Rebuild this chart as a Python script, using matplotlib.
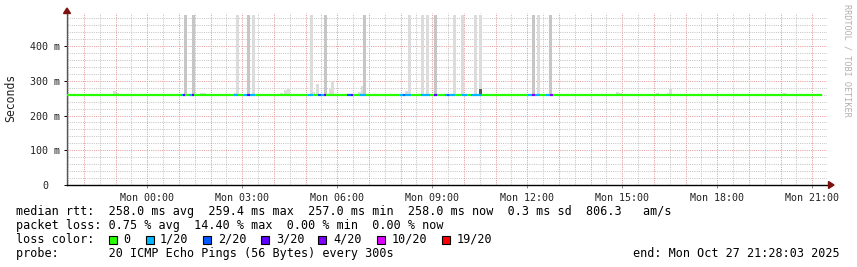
import numpy as np
import matplotlib
matplotlib.use("Agg")
import matplotlib.pyplot as plt
from matplotlib.patches import Rectangle, Polygon
from matplotlib.transforms import blended_transform_factory

W, H = 857, 267
MONO = "DejaVu Sans Mono"

# time axis: hours relative to Mon 00:00
t_start, t_end = -2.533, 21.467
t_last = 21.316
bar_w = 0.095
rtt_median = 258.0

# tall smoke spikes: start hour, top (ms), shade
spike_t = [1.168, 1.421, 2.810, 3.158, 3.316, 5.147, 5.589, 6.821, 8.242, 8.652,
           8.810, 9.063, 9.663, 9.916, 10.326, 10.484, 12.158, 12.316, 12.695]
spike_top = [490, 490, 490, 490, 490, 490, 490, 490, 490, 490,
             490, 490, 490, 490, 490, 490, 490, 490, 490]
spike_shade = ["#c6c6c6", "#c6c6c6", "#dcdcdc", "#c6c6c6", "#dcdcdc", "#dcdcdc", "#c6c6c6",
               "#c6c6c6", "#dcdcdc", "#dcdcdc", "#dcdcdc", "#c6c6c6", "#dcdcdc", "#dcdcdc",
               "#dcdcdc", "#dcdcdc", "#c6c6c6", "#dcdcdc", "#c6c6c6"]

# low smoke just above the median
smoke_t = [-2.432, -2.021, -1.074, -0.980, -0.316, 0.411, 1.674, 1.770, 2.084, 2.526,
           2.747, 3.505, 4.200, 4.326, 4.420, 5.210, 5.337, 5.747, 5.810, 6.030,
           6.660, 6.760, 7.230, 7.520, 8.150, 8.240, 9.190, 9.410, 10.040, 10.420,
           11.370, 14.810, 14.900, 15.160, 15.570, 15.820, 16.070, 16.200, 16.420, 16.480,
           17.340, 20.080]
smoke_top = [263, 262, 270, 266, 262, 262, 264, 264, 262, 262,
             265, 263, 266, 272, 276, 268, 290, 276, 299, 263,
             268, 285, 263, 263, 270, 268, 262, 263, 262, 262,
             262, 268, 266, 262, 262, 262, 265, 262, 265, 276,
             262, 265]

# single dark sample near 10:30
dark_t = [10.484]
dark_top = [276]

# median pieces that differ from 258 ms / no loss
seg_from = [1.074, 1.137, 1.326, 1.421, 2.747, 3.063, 3.158, 3.253, 5.084, 5.400,
            5.495, 5.589, 6.316, 6.442, 6.726, 7.330, 7.989, 8.084, 8.147, 8.652,
            9.063, 9.411, 9.474, 9.537, 9.947, 10.230, 10.420, 11.370, 11.810,
            12.030, 12.160, 12.250, 12.600, 12.730]
seg_to = [1.137, 1.200, 1.421, 1.484, 2.874, 3.158, 3.253, 3.411, 5.242, 5.495,
          5.589, 5.652, 6.442, 6.505, 6.916, 7.450, 8.084, 8.147, 8.337, 8.937,
          9.158, 9.474, 9.537, 9.726, 10.105, 10.420, 10.580, 11.590, 11.970,
          12.160, 12.250, 12.410, 12.730, 12.820]
seg_loss = [1, 3, 1, 3, 1, 1, 3, 1, 1, 2,
            1, 3, 2, 3, 1, 0, 1, 2, 1, 1,
            3, 1, 2, 1, 1, 1, 1, 0, 0,
            1, 4, 1, 1, 4]
seg_rtt = [258.0, 258.0, 259.4, 259.0, 258.0, 258.0, 258.0, 258.0, 258.0, 258.0,
           258.0, 258.0, 259.4, 259.4, 258.0, 259.4, 258.0, 258.0, 258.0, 258.0,
           258.0, 259.4, 259.4, 258.0, 258.0, 258.0, 259.4, 259.4, 259.4,
           259.4, 259.4, 258.0, 259.4, 259.4]

loss_levels = [0, 1, 2, 3, 4, 10, 19]
loss_labels = ["0", "1/20", "2/20", "3/20", "4/20", "10/20", "19/20"]
loss_colors = ["#26ff00", "#00b8ff", "#0059ff", "#5e00ff", "#7e00ff", "#dd00ff", "#ff0000"]
color_of = dict(zip(loss_levels, loss_colors))

x_ticks = [0, 3, 6, 9, 12, 15, 18, 21]
x_labels = ["Mon 00:00", "Mon 03:00", "Mon 06:00", "Mon 09:00",
            "Mon 12:00", "Mon 15:00", "Mon 18:00", "Mon 21:00"]
y_ticks = [0, 100, 200, 300, 400]
y_labels = ["0", "100 m", "200 m", "300 m", "400 m"]

fig = plt.figure(figsize=(W / 100, H / 100), dpi=100, facecolor="white")
ax = fig.add_axes([67 / W, 1 - 185 / H, 760 / W, 172 / H])
ax.set_xlim(t_start, t_end)
ax.set_ylim(0, 495)
ax.set_facecolor("white")

GRID = "#c4c4c4"
MGRID = "#e49a9a"
dots = (0, (1.0, 1.2))
for h in np.arange(-2.5, t_end, 0.5):
    if abs(h - round(h)) > 1e-6:
        ax.axvline(h, color=GRID, ls=dots, lw=0.72, zorder=0, snap=True)
for v in range(20, 495, 20):
    if v % 100:
        ax.axhline(v, color=GRID, ls=dots, lw=0.72, zorder=0, snap=True)
for h in range(-2, 22):
    ax.axvline(h, color=MGRID, ls=dots, lw=0.72, zorder=0.5, snap=True)
for v in y_ticks[1:]:
    ax.axhline(v, color=MGRID, ls=dots, lw=0.72, zorder=0.5, snap=True)

# smoke
base = 256.5
ax.bar(smoke_t, np.array(smoke_top) - base, bottom=base, width=bar_w, align="edge",
       color="#dcdcdc", linewidth=0, zorder=2)
ax.bar(spike_t, np.array(spike_top) - base, bottom=base, width=bar_w, align="edge",
       color=spike_shade, linewidth=0, zorder=2)
ax.bar(dark_t, np.array(dark_top) - base, bottom=base, width=bar_w, align="edge",
       color="#555555", linewidth=0, zorder=2.5)

# median line coloured by loss
pieces = []
cur = t_start
for a, b, n, r in sorted(zip(seg_from, seg_to, seg_loss, seg_rtt)):
    if a > cur:
        pieces.append((cur, a, 0, rtt_median))
    pieces.append((a, b, n, r))
    cur = b
pieces.append((cur, t_last, 0, rtt_median))
for a, b, n, r in pieces:
    ax.plot([a, b], [r, r], color=color_of[n], lw=1.6, solid_capstyle="butt", zorder=3)

# axes
for s in ["top", "right"]:
    ax.spines[s].set_visible(False)
ax.spines["left"].set_color("#555555")
ax.spines["bottom"].set_color("black")
ax.spines["left"].set_linewidth(1.0)
ax.spines["bottom"].set_linewidth(1.0)
ax.set_xticks(x_ticks, x_labels)
ax.set_yticks(y_ticks, [""] * len(y_ticks))
ax.tick_params(axis="x", which="major", direction="out", length=2, width=0.6,
               pad=4, labelsize=7.2, labelcolor="#222222", color="#777777")
ax.tick_params(axis="y", direction="out", length=2.5, width=0.7)
for lab in ax.get_xticklabels():
    lab.set_fontfamily(MONO)

ylab_tr = blended_transform_factory(fig.transFigure, ax.transData)
for v, lab in zip(y_ticks, y_labels):
    x0 = 42 if lab == "0" else 30
    ax.text(x0 / W, v, lab, transform=ylab_tr, ha="left", va="center_baseline",
            family=MONO, fontsize=7.2, color="#222222")
fig.text(11 / W, 1 - 98 / H, "Seconds", rotation=90, ha="center", va="center",
         family=MONO, fontsize=8.3, color="#222222")

# arrows
arrow_c = "#7f1010"
fig.add_artist(Polygon([(67 / W, 1 - 8 / H), (63.5 / W, 1 - 13.5 / H), (70.5 / W, 1 - 13.5 / H)],
                       closed=True, color=arrow_c, transform=fig.transFigure))
fig.add_artist(Polygon([(834 / W, 1 - 185 / H), (828.5 / W, 1 - 181.5 / H), (828.5 / W, 1 - 188.5 / H)],
                       closed=True, color=arrow_c, transform=fig.transFigure))

fig.text(847 / W, 1 - 4 / H, "RRDTOOL / TOBI OETIKER", rotation=270, ha="center", va="top",
         family=MONO, fontsize=6.1, color="#b0b0b0")

# legend
legend_lines = [
    "median rtt:  258.0 ms avg  259.4 ms max  257.0 ms min  258.0 ms now  0.3 ms sd  806.3   am/s",
    "packet loss: 0.75 % avg  14.40 % max  0.00 % min  0.00 % now",
    "loss color:",
    "probe:       20 ICMP Echo Pings (56 Bytes) every 300s",
]
baselines = [215, 229, 243, 257]
for txt, yb in zip(legend_lines, baselines):
    fig.text(16 / W, 1 - yb / H, txt, ha="left", va="baseline", family=MONO,
             fontsize=8.5, color="black")
fig.text(840 / W, 1 - 257 / H, "end: Mon Oct 27 21:28:03 2025", ha="right", va="baseline",
         family=MONO, fontsize=8.5, color="black")

box_x = [109, 146, 203, 261, 318, 377, 442]
label_x = [123, 160, 218, 276, 333, 392, 457]
for bx, lx, lab, col in zip(box_x, label_x, loss_labels, loss_colors):
    fig.add_artist(Rectangle((bx / W, 1 - 243.5 / H), 8 / W, 8 / H, transform=fig.transFigure,
                             facecolor=col, edgecolor="black", linewidth=0.8))
    fig.text(lx / W, 1 - 243 / H, lab, ha="left", va="baseline", family=MONO,
             fontsize=8.5, color="black")

fig.savefig("out.png", dpi=100, facecolor="white")
